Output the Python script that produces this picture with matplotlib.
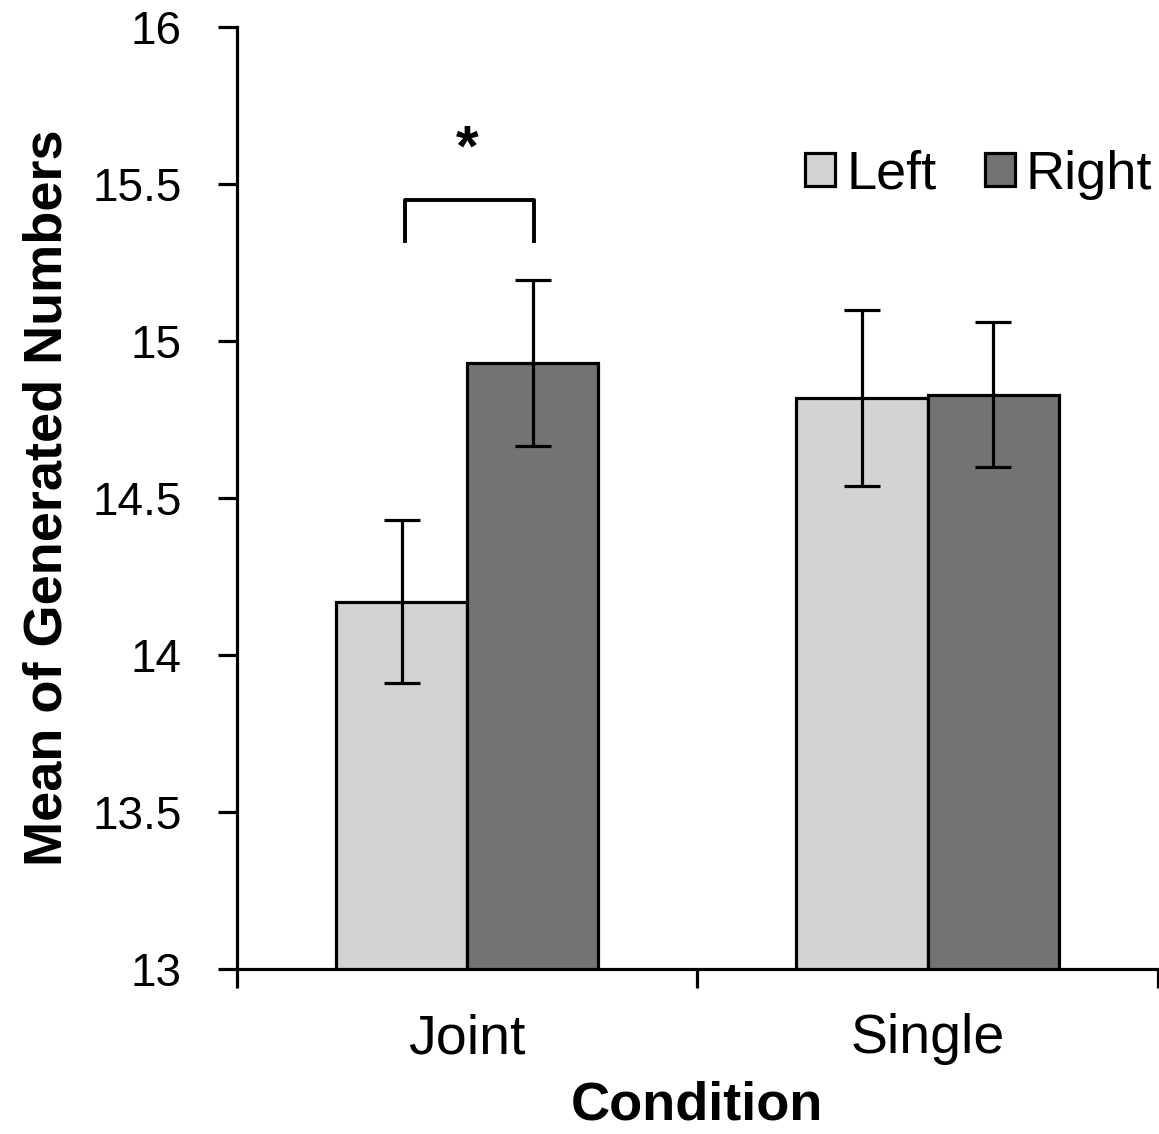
import numpy as np
import matplotlib.pyplot as plt
from matplotlib.patches import Patch

plt.rcParams['font.family'] = ['Liberation Sans', 'DejaVu Sans']

conditions = ['Joint', 'Single']
left_means = [14.17, 14.82]
left_err = [0.26, 0.28]
right_means = [14.93, 14.83]
right_err = [0.265, 0.23]
yticks = [13, 13.5, 14, 14.5, 15, 15.5, 16]

light = '#d3d3d3'
dark = '#737373'

fig = plt.figure(figsize=(11.59, 11.34), dpi=100)
ax = fig.add_axes([0.2045, 0.1455, 0.7945, 0.8305])

x = np.arange(len(conditions))
w = 0.285
ekw = dict(elinewidth=2.3, capthick=2.3, ecolor='black')
ax.bar(x - w/2, left_means, w, color=light, edgecolor='black',
       linewidth=2.3, yerr=left_err, capsize=13, error_kw=ekw, zorder=2)
ax.bar(x + w/2, right_means, w, color=dark, edgecolor='black',
       linewidth=2.3, yerr=right_err, capsize=13, error_kw=ekw, zorder=2)

ax.set_xlim(-0.5, 1.5)
ax.set_ylim(13, 16)
ax.set_yticks(yticks)
ax.set_yticklabels(['13', '13.5', '14', '14.5', '15', '15.5', '16'])

# category boundaries as major ticks, labels on minor
ax.set_xticks([-0.5, 0.5, 1.5])
ax.set_xticklabels([])
ax.set_xticks(x, minor=True)
ax.set_xticklabels(conditions, minor=True, fontsize=40)
ax.tick_params(axis='x', which='minor', length=0, pad=32)
ax.tick_params(axis='x', which='major', length=14, width=2.3, direction='out')
ax.tick_params(axis='y', length=14, width=2.3, direction='out', labelsize=33, pad=26)

for s in ['top', 'right']:
    ax.spines[s].set_visible(False)
for s in ['left', 'bottom']:
    ax.spines[s].set_linewidth(2.3)

ax.set_xlabel('Condition', fontsize=39, fontweight='bold', labelpad=11)
ax.set_ylabel('Mean of Generated Numbers', fontsize=39, fontweight='bold', labelpad=14)

# significance bracket
bx0 = -0.135
bx1 = 0.1455
ax.plot([bx0, bx0, bx1, bx1], [15.32, 15.45, 15.45, 15.32], color='black', lw=2.8,
        solid_joinstyle='round', clip_on=False)
ax.text(0, 15.52, '*', ha='center', va='bottom', fontsize=42, fontweight='bold')

handles = [Patch(facecolor=light, edgecolor='black', linewidth=2.3),
           Patch(facecolor=dark, edgecolor='black', linewidth=2.3)]
ax.legend(handles, ['Left', 'Right'], loc='upper right', bbox_to_anchor=(1.035, 0.91),
          ncol=2, frameon=False, fontsize=39, handlelength=0.55, handleheight=0.55,
          handletextpad=0.2, columnspacing=0.9, borderpad=0.2)

fig.savefig('out.png', dpi=100)
